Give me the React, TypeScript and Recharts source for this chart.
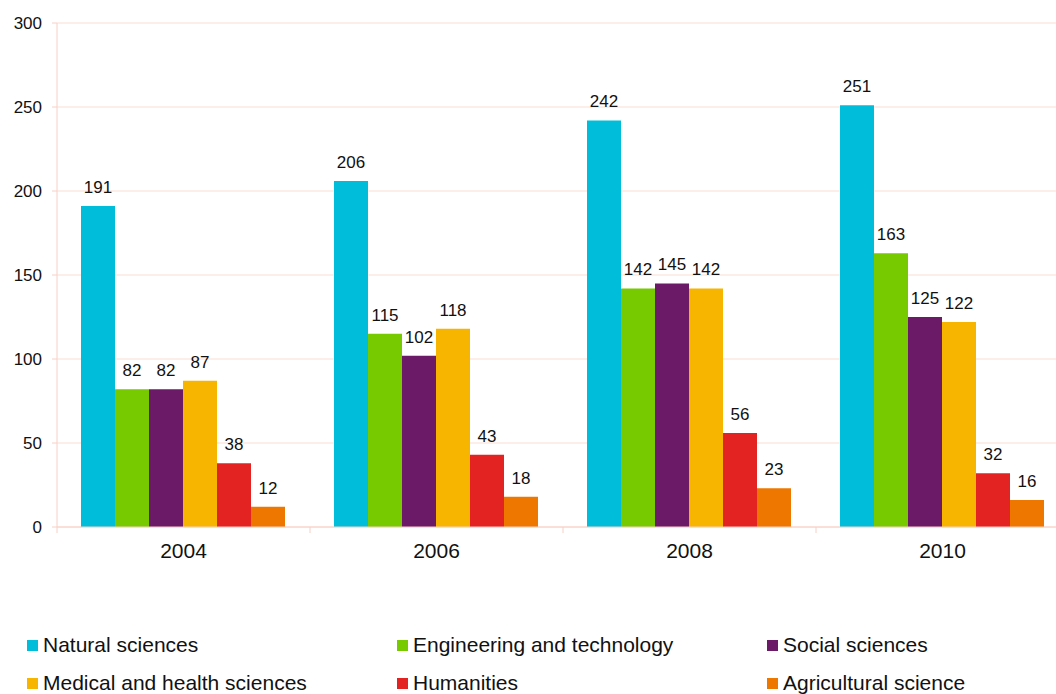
import React from 'react';
import { BarChart, Bar, XAxis, YAxis, CartesianGrid, LabelList } from 'recharts';

const years = ['2004', '2006', '2008', '2010'];
const natural = [191, 206, 242, 251];
const engineering = [82, 115, 142, 163];
const social = [82, 102, 145, 125];
const medical = [87, 118, 142, 122];
const humanities = [38, 43, 56, 32];
const agricultural = [12, 18, 23, 16];
const yTicks = [0, 50, 100, 150, 200, 250, 300];

const series = [
  { key: 'natural', name: 'Natural sciences', color: '#00BED9', values: natural },
  { key: 'engineering', name: 'Engineering and technology', color: '#77C900', values: engineering },
  { key: 'social', name: 'Social sciences', color: '#6B1A68', values: social },
  { key: 'medical', name: 'Medical and health sciences', color: '#F7B500', values: medical },
  { key: 'humanities', name: 'Humanities', color: '#E32322', values: humanities },
  { key: 'agricultural', name: 'Agricultural science', color: '#EE7700', values: agricultural },
];

const data = years.map((year, i) => {
  const row: Record<string, string | number> = { year };
  series.forEach((s) => {
    row[s.key] = s.values[i];
  });
  return row;
});

const FONT = '"Liberation Sans", Arial, sans-serif';
const AXIS = '#F8D0C6';
const GRID = '#FDDDD4';

// category label plus boundary tick marks
function YearTick(props: any) {
  const { x, y, payload, index, width, visibleTicksCount } = props;
  const half = payload?.offset ?? width / (visibleTicksCount || years.length) / 2;
  return (
    <g>
      <line x1={x - half} y1={y} x2={x - half} y2={y + 6} stroke={AXIS} />
      {index === years.length - 1 && (
        <line x1={x + half} y1={y} x2={x + half} y2={y + 6} stroke={AXIS} />
      )}
      <text x={x} y={y + 31} textAnchor="middle" fontSize={21} fill="#111" fontFamily={FONT}>
        {payload.value}
      </text>
    </g>
  );
}

function LegendBox() {
  return (
    <div
      style={{
        position: 'absolute',
        left: 27,
        top: 634,
        display: 'grid',
        gridTemplateColumns: '370px 370px 370px',
        rowGap: 16,
        fontFamily: FONT,
        fontSize: 21,
        color: '#111',
      }}
    >
      {series.map((s) => (
        <div key={s.key} style={{ display: 'flex', alignItems: 'center', height: 22 }}>
          <span style={{ width: 11, height: 11, background: s.color, marginRight: 5, display: 'inline-block' }} />
          <span>{s.name}</span>
        </div>
      ))}
    </div>
  );
}

export default function App() {
  return (
    <div style={{ position: 'absolute', left: 0, top: 0, width: 1056, height: 694, overflow: 'hidden', background: '#fff' }}>
      <BarChart
        width={1100}
        height={694}
        data={data}
        margin={{ top: 23, right: 31, bottom: 127, left: 0 }}
        barCategoryGap={24}
        barGap={0}
      >
        <CartesianGrid vertical={false} stroke={GRID} />
        <XAxis
          dataKey="year"
          axisLine={{ stroke: AXIS }}
          tickLine={false}
          tickSize={0}
          tickMargin={0}
          height={40}
          interval={0}
          tick={<YearTick />}
        />
        <YAxis
          domain={[0, 300]}
          ticks={yTicks}
          width={57}
          axisLine={{ stroke: AXIS }}
          tickLine={{ stroke: AXIS }}
          tickSize={5}
          tickMargin={10}
          tick={{ fontSize: 17, fill: '#111', fontFamily: FONT }}
        />
        {series.map((s) => (
          <Bar key={s.key} dataKey={s.key} name={s.name} fill={s.color} isAnimationActive={false}>
            <LabelList
              dataKey={s.key}
              position="top"
              offset={13}
              style={{ fontSize: 17, fill: '#111', fontFamily: FONT }}
            />
          </Bar>
        ))}
      </BarChart>
      <LegendBox />
    </div>
  );
}
